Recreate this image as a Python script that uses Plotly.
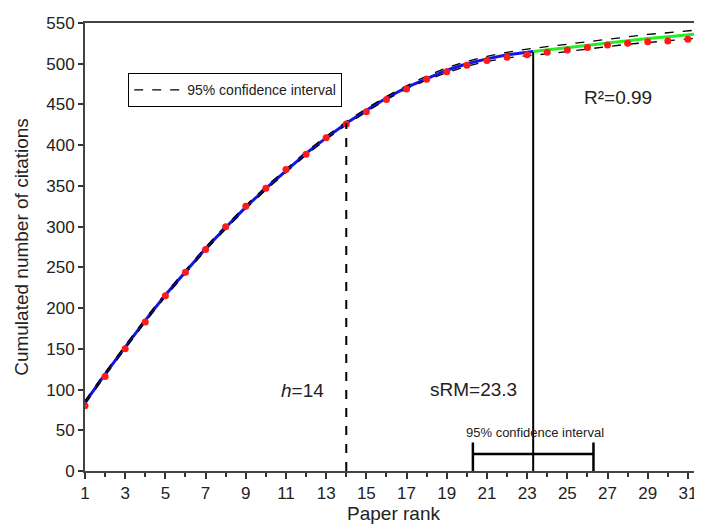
import plotly.graph_objects as go

# Observed data: paper rank vs cumulated number of citations
ranks = list(range(1, 32))
cum_citations = [80, 116, 150, 183, 215, 244, 272, 300, 325, 347, 370, 389, 409, 426,
                 441, 456, 469, 481, 490, 498, 504, 508, 511, 514, 517, 520, 523, 525,
                 527, 528, 530]

# Fitted curve (blue, up to sRM)
fit_x = [1, 2, 3, 4, 5, 6, 7, 8, 9, 10, 11, 12, 13, 14, 15, 16, 17, 18, 19, 20, 21, 22, 23, 23.3]
fit_y = [84, 119, 152, 185, 216, 245, 273, 299, 324, 347, 369, 390, 409, 427, 443, 458, 471,
         482, 492, 500, 506, 511, 514, 515]

# Extrapolated part (green, after sRM)
ext_x = [23.3, 24, 25, 26, 27, 28, 29, 30, 31, 31.7]
ext_y = [515, 517, 520, 523, 526, 529, 531, 533, 535, 537]

# 95% confidence interval of the fit (dashed)
ci_x = [1, 2, 3, 4, 5, 6, 7, 8, 9, 10, 11, 12, 13, 14, 15, 16, 17, 18, 19, 20, 21, 22, 23,
        24, 25, 26, 27, 28, 29, 30, 31, 31.7]
ci_upper = [86, 121, 154, 187, 218, 247, 275, 301, 326, 349, 371, 392, 411, 429, 445, 460, 473,
            485, 495, 503, 509, 514, 518, 521, 524, 527, 530, 533, 536, 538, 540, 542]
ci_lower = [82, 117, 150, 183, 214, 243, 271, 297, 322, 345, 367, 388, 407, 425, 441, 456, 469,
            480, 489, 497, 503, 507, 510, 512, 515, 518, 521, 524, 526, 528, 530, 532]

# Indicators
h_index = 14
h_cum = 427
srm = 23.3
srm_cum = 514
srm_ci_low = 20.3
srm_ci_high = 26.3
ci_bar_y = 21
ci_cap_top = 35

x_tickvals = list(range(1, 32, 2))
y_tickvals = list(range(0, 551, 50))

FONT = "Liberation Sans, Arial, sans-serif"

fig = go.Figure()

fig.add_trace(go.Scatter(x=fit_x, y=fit_y, mode="lines",
                         line=dict(color="#1414e6", width=3), showlegend=False))
fig.add_trace(go.Scatter(x=ext_x, y=ext_y, mode="lines",
                         line=dict(color="#22ee22", width=3), showlegend=False))
fig.add_trace(go.Scatter(x=ci_x, y=ci_upper, mode="lines", name="95% confidence interval",
                         line=dict(color="black", width=1.3, dash="dash"), showlegend=True))
fig.add_trace(go.Scatter(x=ci_x, y=ci_lower, mode="lines",
                         line=dict(color="black", width=1.3, dash="dash"), showlegend=False))
fig.add_trace(go.Scatter(x=ranks, y=cum_citations, mode="markers",
                         marker=dict(color="#ff1a1a", size=7), showlegend=False))

# h-index dashed vertical
fig.add_trace(go.Scatter(x=[h_index, h_index], y=[0, h_cum], mode="lines",
                         line=dict(color="black", width=2, dash="dash"), showlegend=False))
# sRM solid vertical
fig.add_trace(go.Scatter(x=[srm, srm], y=[0, srm_cum], mode="lines",
                         line=dict(color="black", width=2), showlegend=False))
# sRM confidence interval bar
fig.add_trace(go.Scatter(x=[srm_ci_low, srm_ci_high], y=[ci_bar_y, ci_bar_y], mode="lines",
                         line=dict(color="black", width=2.5), showlegend=False))
fig.add_trace(go.Scatter(x=[srm_ci_low, srm_ci_low], y=[0, ci_cap_top], mode="lines",
                         line=dict(color="black", width=2.5), showlegend=False))
fig.add_trace(go.Scatter(x=[srm_ci_high, srm_ci_high], y=[0, ci_cap_top], mode="lines",
                         line=dict(color="black", width=2.5), showlegend=False))

annots = [
    dict(x=11.8, y=99, text="<i>h</i>=14", size=19),
    dict(x=20.35, y=100, text="sRM=23.3", size=19),
    dict(x=23.4, y=47, text="95% confidence interval", size=13),
    dict(x=27.5, y=459, text="R²=0.99", size=19),
]
for a in annots:
    fig.add_annotation(x=a["x"], y=a["y"], text=a["text"], showarrow=False,
                       font=dict(family=FONT, color="#222", size=a["size"]),
                       xanchor="center", yanchor="middle")

# The page body has an 8px default margin, so the figure is sized to the visible area.
fig.update_layout(
    width=694, height=519,
    margin=dict(l=77, r=0, t=15, b=56),
    paper_bgcolor="white", plot_bgcolor="white",
    font=dict(family=FONT, color="#222"),
    legend=dict(x=0.07, y=0.888, xanchor="left", yanchor="top",
                bordercolor="black", borderwidth=1, bgcolor="white", itemwidth=48,
                font=dict(size=14, family=FONT, color="#222")),
)
fig.update_xaxes(
    range=[1, 31.7], tickvals=x_tickvals, ticks="outside", ticklen=6, tickwidth=1.5,
    tickcolor="#333", showline=True, linecolor="#444", linewidth=2, mirror=True,
    showgrid=False, zeroline=False, tickfont=dict(size=17), automargin=False,
    minor=dict(dtick=1, tick0=1, ticks="outside", ticklen=4, tickcolor="#333", showgrid=False),
    title=dict(text="Paper rank", font=dict(size=19), standoff=3),
)
fig.update_yaxes(
    range=[0, 550], tickvals=y_tickvals, ticks="outside", ticklen=5, tickwidth=1.5,
    tickcolor="#333", showline=True, linecolor="#444", linewidth=2,
    showgrid=False, zeroline=False, tickfont=dict(size=17), automargin=False,
    title=dict(text="Cumulated number of citations", font=dict(size=19), standoff=13),
)

fig.write_html("out.html")
